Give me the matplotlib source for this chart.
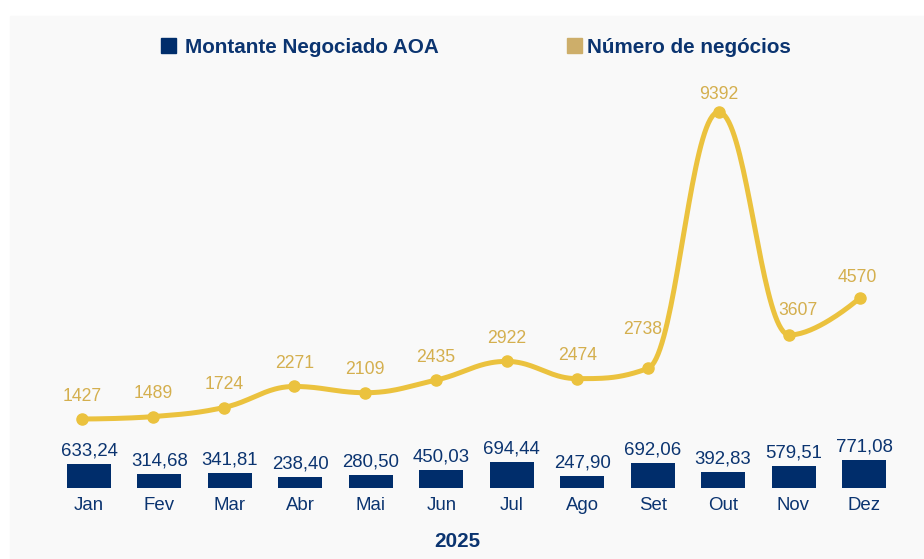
import numpy as np
import matplotlib
matplotlib.use("Agg")
import matplotlib.pyplot as plt
from matplotlib.patches import Rectangle

# dados
meses = ["Jan", "Fev", "Mar", "Abr", "Mai", "Jun", "Jul", "Ago", "Set", "Out", "Nov", "Dez"]
montante = [633.24, 314.68, 341.81, 238.40, 280.50, 450.03, 694.44, 247.90, 692.06, 392.83, 579.51, 771.08]
negocios = [1427, 1489, 1724, 2271, 2109, 2435, 2922, 2474, 2738, 9392, 3607, 4570]
ano = "2025"

NAVY = "#002d6b"
TXT = "#0b3470"
GOLD = "#ebc23e"
GOLD_TXT = "#d4af4e"
TAN = "#cdae6a"

plt.rcParams['font.family'] = ['Liberation Sans', 'DejaVu Sans']

W, H = 924, 559
fig = plt.figure(figsize=(W / 100, H / 100), dpi=100)
fig.patch.set_facecolor("white")
# fundo cinza claro
fig.patches.append(Rectangle((10 / W, 0), (W - 10) / W, (H - 16) / H,
                             transform=fig.transFigure, color="#f9f9f9", zorder=-10))


def px2fig(x, y):
    return x / W, 1 - y / H


# spline tipo highcharts
def hc_spline(xs, ys, n=40):
    N = len(xs)
    left = [None] * N
    right = [None] * N
    sm = 1.5
    den = sm + 1
    for i in range(1, N - 1):
        x, y = xs[i], ys[i]
        lx, ly = xs[i - 1], ys[i - 1]
        nx, ny = xs[i + 1], ys[i + 1]
        lcx = (sm * x + lx) / den
        lcy = (sm * y + ly) / den
        rcx = (sm * x + nx) / den
        rcy = (sm * y + ny) / den
        corr = 0
        if rcx != lcx:
            corr = ((rcy - lcy) * (rcx - x)) / (rcx - lcx) + y - rcy
        lcy += corr
        rcy += corr
        if lcy > ly and lcy > y:
            lcy = max(ly, y)
            rcy = 2 * y - lcy
        elif lcy < ly and lcy < y:
            lcy = min(ly, y)
            rcy = 2 * y - lcy
        if rcy > ny and rcy > y:
            rcy = max(ny, y)
            lcy = 2 * y - rcy
        elif rcy < ny and rcy < y:
            rcy = min(ny, y)
            lcy = 2 * y - rcy
        left[i] = (lcx, lcy)
        right[i] = (rcx, rcy)
    t = np.linspace(0, 1, n)
    outx, outy = [], []
    for i in range(1, N):
        p0 = (xs[i - 1], ys[i - 1])
        p1 = right[i - 1] or p0
        p3 = (xs[i], ys[i])
        p2 = left[i] or p3
        bx = (1 - t) ** 3 * p0[0] + 3 * (1 - t) ** 2 * t * p1[0] + 3 * (1 - t) * t ** 2 * p2[0] + t ** 3 * p3[0]
        by = (1 - t) ** 3 * p0[1] + 3 * (1 - t) ** 2 * t * p1[1] + 3 * (1 - t) * t ** 2 * p2[1] + t ** 3 * p3[1]
        outx.extend(bx)
        outy.extend(by)
    return np.array(outx), np.array(outy)


idx = np.arange(len(meses))

# eixo das barras
ax = fig.add_axes([0, 0, 1, 1])
ax.patch.set_alpha(0)
ax.axis("off")
bar_step, bar_x0 = 70.45, 89
ax.set_xlim(-bar_x0 / bar_step, (W - bar_x0) / bar_step)
bar_floor = -130
bar_scale = 0.031
ax.set_ylim(bar_floor - (H - 488) / bar_scale, bar_floor + 488 / bar_scale)
ax.bar(idx, np.array(montante) - bar_floor, bottom=bar_floor, width=44 / bar_step,
       color=NAVY, zorder=2)
for i, v in enumerate(montante):
    ax.annotate(f"{v:.2f}".replace(".", ","), (i, v), xytext=(0, 8.5),
                textcoords="offset pixels", ha="center", va="baseline",
                fontsize=13.4, color=TXT)
    ax.annotate(meses[i], (i, bar_floor), xytext=(0, -21.5),
                textcoords="offset pixels", ha="center", va="baseline",
                fontsize=13.4, color=TXT)

# eixo da linha
ax2 = fig.add_axes([0, 0, 1, 1])
ax2.patch.set_alpha(0)
ax2.axis("off")
ln_step, ln_x0 = 70.7, 82.3
ax2.set_xlim(-ln_x0 / ln_step, (W - ln_x0) / ln_step)
ln_scale = 0.03854
ax2.set_ylim(-(H - 474) / ln_scale, 474 / ln_scale)
sx, sy = hc_spline(list(idx.astype(float)), [float(v) for v in negocios])
ax2.plot(sx, sy, color=GOLD, lw=3.6, solid_capstyle="round", zorder=3)
ax2.plot(idx, negocios, "o", color=GOLD, ms=8, zorder=4)

nudge = {"Set": (-5, 15.5), "Out": (0, -5), "Nov": (9, 1.5), "Dez": (-3, -3)}
for i, v in enumerate(negocios):
    dx, dy = nudge.get(meses[i], (0, 0))
    ax2.annotate(str(v), (i, v), xytext=(dx, 18.5 + dy), textcoords="offset pixels",
                 ha="center", va="baseline", fontsize=12.7, color=GOLD_TXT)

# legenda
for sq_x, txt_x, col, label in [(161, 185, NAVY, "Montante Negociado AOA"),
                                (567, 587, TAN, "Número de negócios")]:
    fx, fy = px2fig(sq_x, 53)
    fig.patches.append(Rectangle((fx, fy), 15 / W, 15 / H, transform=fig.transFigure,
                                 color=col, zorder=5))
    tx, ty = px2fig(txt_x, 52.7)
    fig.text(tx, ty, label, ha="left", va="baseline", fontsize=14.9,
             fontweight="bold", color=TXT)

tx, ty = px2fig(457, 546.7)
fig.text(tx, ty, ano, ha="center", va="baseline", fontsize=14.9,
         fontweight="bold", color=TXT)

fig.savefig("out.png", dpi=100, facecolor=fig.get_facecolor())
